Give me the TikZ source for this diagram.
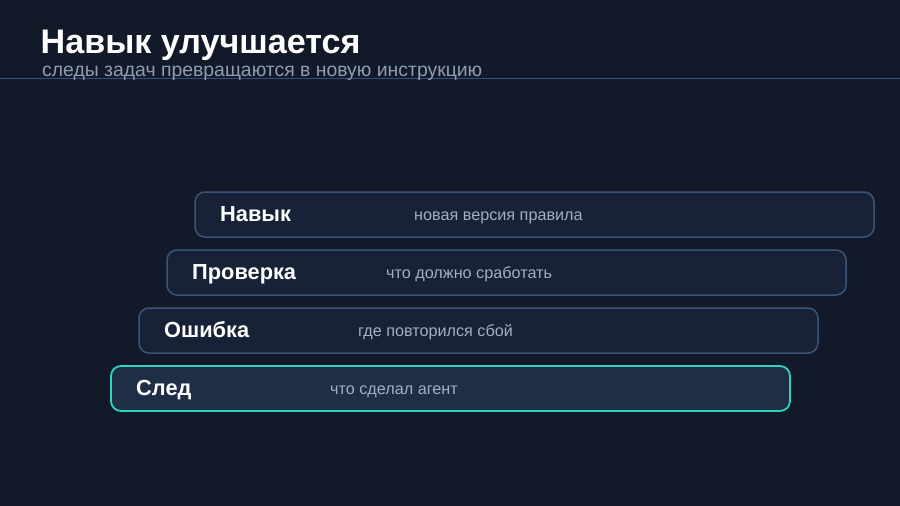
\documentclass[tikz,border=0pt]{standalone}
\usepackage{fontspec}
\setmainfont{Liberation Sans}
\definecolor{bg}{HTML}{121A2A}
\definecolor{boxfill}{HTML}{172236}
\definecolor{boxline}{HTML}{3B5578}
\definecolor{hifill}{HTML}{1F2E47}
\definecolor{hiline}{HTML}{2DD4BF}
\definecolor{desc}{HTML}{A3AEBF}
\definecolor{subc}{HTML}{8F9CB2}
\definecolor{rule}{HTML}{34507A}
\tikzset{
  stepbox/.style={draw=boxline, fill=boxfill, line width=1.5pt, rounded corners=10pt},
  hibox/.style={draw=hiline, fill=hifill, line width=1.8pt, rounded corners=10pt},
  lbl/.style={anchor=base west, inner sep=0pt, text=white, font=\bfseries\fontsize{21.8}{24}\selectfont},
  dsc/.style={anchor=base west, inner sep=0pt, text=desc, font=\fontsize{16.2}{18}\selectfont},
}
\begin{document}
\begin{tikzpicture}[x=1pt,y=-1pt]
\fill[bg] (0,0) rectangle (900,506);
\useasboundingbox (0,0) rectangle (900,506);
\draw[rule, line width=1pt] (0,78) -- (900,78);
\node[anchor=base west, inner sep=0pt, text=white, font=\bfseries\fontsize{34.1}{40}\selectfont] (title) at (40.5,53.3) {Навык улучшается};
\node[anchor=base west, inner sep=0pt, text=subc, font=\fontsize{19.4}{22}\selectfont] (sub) at (42,76) {следы задач превращаются в новую инструкцию};
% boxes
\path[stepbox] (195,192) rectangle (874,237);
\node[lbl] (n1) at (220,221.3) {Навык};
\node[dsc] (d1) at (414,220) {новая версия правила};
\path[stepbox] (167,250) rectangle (846,295);
\node[lbl] (n2) at (192,279.3) {Проверка};
\node[dsc] (d2) at (386,278) {что должно сработать};
\path[stepbox] (139,308) rectangle (818,353);
\node[lbl] (n3) at (164,337.3) {Ошибка};
\node[dsc] (d3) at (358,336) {где повторился сбой};
\path[hibox] (111,366) rectangle (790,411);
\node[lbl] (n4) at (136,395.3) {След};
\node[dsc] (d4) at (330,394) {что сделал агент};
\end{tikzpicture}
\end{document}
